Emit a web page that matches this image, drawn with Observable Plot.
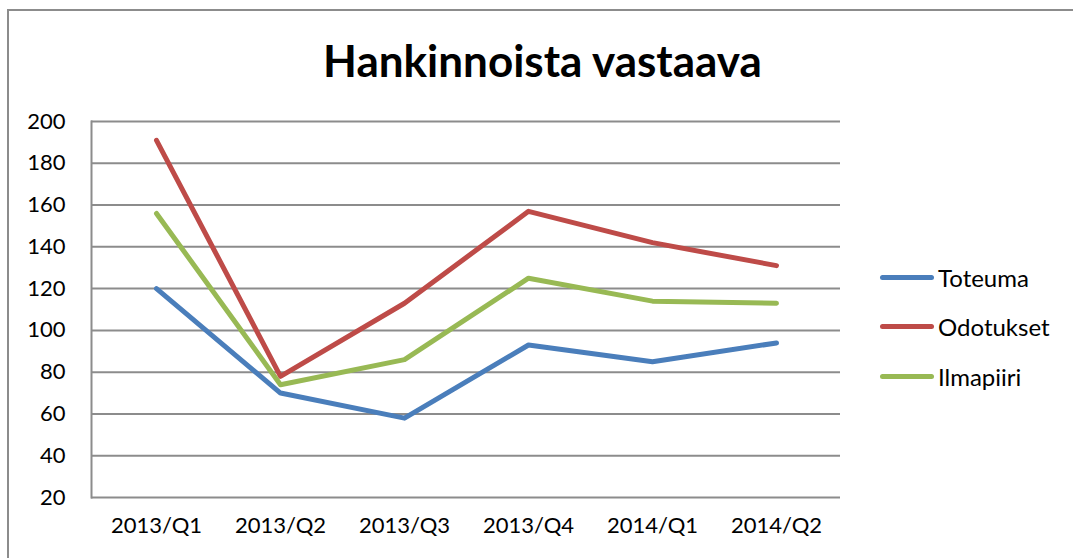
<!DOCTYPE html>
<html>
<head>
<meta charset="utf-8">
<script src="https://cdn.jsdelivr.net/npm/d3@7"></script>
<script src="https://cdn.jsdelivr.net/npm/@observablehq/plot@0.6"></script>
<style>
  html, body { margin: 0; padding: 0; background: #fff; }
  #wrap { position: relative; width: 1073px; height: 558px; overflow: hidden; font-family: Lato, "Open Sans", sans-serif; }
  #border { position: absolute; left: 7px; top: 9px; right: -10px; bottom: -10px; border-left: 2px solid #8c8c8c; border-top: 2px solid #8c8c8c; }
  #title { position: absolute; left: 0; width: 1085px; top: 38px; text-align: center; font-size: 44px; line-height: 44px; font-weight: bold; color: #000; }
  #chart { position: absolute; left: 0; top: 0; }
  .leg { position: absolute; left: 880px; height: 24px; font-size: 24px; line-height: 24px; color: #000; white-space: nowrap; }
  .sw { position: absolute; left: 0; top: 9px; width: 54px; height: 5px; border-radius: 3px; }
  .lt { position: absolute; left: 58px; top: 0; }
</style>
</head>
<body>
<div id="wrap">
  <div id="border"></div>
  <div id="chart"></div>
  <div id="title">Hankinnoista vastaava</div>
  <div id="legend"></div>
</div>
<script>
const categories = ["2013/Q1", "2013/Q2", "2013/Q3", "2013/Q4", "2014/Q1", "2014/Q2"];
const seriesNames = ["Toteuma", "Odotukset", "Ilmapiiri"];
const toteuma = [120, 70, 58, 93, 85, 94];
const odotukset = [191, 78, 113, 157, 142, 131];
const ilmapiiri = [156, 74, 86, 125, 114, 113];
const yTicks = [20, 40, 60, 80, 100, 120, 140, 160, 180, 200];
const colors = ["#4A7EBB", "#BE4B48", "#98B954"];

const seriesValues = [toteuma, odotukset, ilmapiiri];
const data = [];
seriesNames.forEach((s, i) => {
  categories.forEach((c, j) => data.push({series: s, cat: c, value: seriesValues[i][j]}));
});

const chart = Plot.plot({
  width: 1073,
  height: 558,
  marginLeft: 91,
  marginRight: 233,
  marginTop: 121,
  marginBottom: 61,
  style: {fontFamily: "Lato, 'Open Sans', sans-serif", fontSize: "22px", color: "#000", background: "transparent"},
  x: {type: "point", domain: categories, padding: 0.5},
  y: {domain: [20, 200]},
  color: {domain: seriesNames, range: colors},
  marks: [
    Plot.ruleY(yTicks, {stroke: "#8c8c8c", strokeWidth: 2, strokeOpacity: 1}),
    Plot.frame({anchor: "left", stroke: "#8c8c8c", strokeWidth: 2}),
    Plot.axisY({ticks: yTicks, tickSize: 0, tickPadding: 26, label: null, fill: "#000"}),
    Plot.axisX({tickSize: 0, tickPadding: 20, label: null, fill: "#000"}),
    Plot.line(data, {x: "cat", y: "value", z: "series", stroke: "series", strokeWidth: 5, strokeLinecap: "round", strokeLinejoin: "round"})
  ]
});
document.getElementById("chart").appendChild(chart);

const legYs = [278, 327, 377];
const legend = document.getElementById("legend");
seriesNames.forEach((s, i) => {
  const d = document.createElement("div");
  d.className = "leg";
  d.style.top = (legYs[i] - 12) + "px";
  d.innerHTML = `<span class="sw" style="background:${colors[i]}"></span><span class="lt">${s}</span>`;
  legend.appendChild(d);
});
</script>
</body>
</html>
